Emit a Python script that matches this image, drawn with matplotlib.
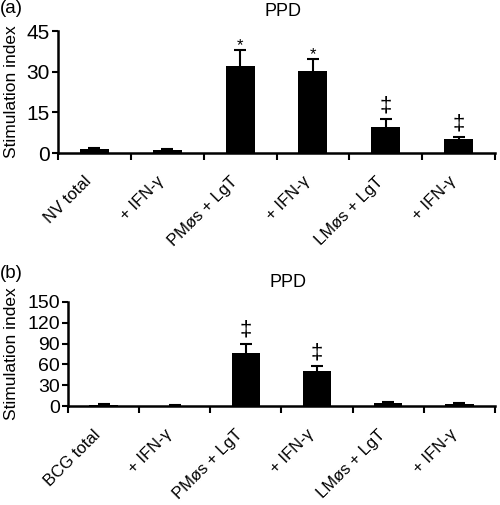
import matplotlib
matplotlib.use("Agg")
import matplotlib.pyplot as plt
import numpy as np

plt.rcParams['font.family'] = ['Liberation Sans', 'DejaVu Sans']

labels_a = ["NV total", "+ IFN-\u03b3", "PM\u00f8s + LgT", "+ IFN-\u03b3", "LM\u00f8s + LgT", "+ IFN-\u03b3"]
values_a = [1.5, 1.2, 32.0, 30.3, 9.7, 5.0]
errors_a = [0.5, 0.4, 6.0, 4.3, 2.7, 0.9]
marks_a = ["", "", "*", "*", "\u2021", "\u2021"]
yticks_a = [0, 15, 30, 45]

labels_b = ["BCG total", "+ IFN-\u03b3", "PM\u00f8s + LgT", "+ IFN-\u03b3", "LM\u00f8s + LgT", "+ IFN-\u03b3"]
values_b = [1.5, 0.5, 76.0, 51.0, 4.3, 3.0]
errors_b = [1.0, 1.0, 14.0, 6.5, 1.5, 1.2]
marks_b = ["", "", "\u2021", "\u2021", "", ""]
yticks_b = [0, 30, 60, 90, 120, 150]

fig = plt.figure(figsize=(5.0, 5.05), dpi=100)

def panel(rect, labels, values, errors, marks, yticks, tag, tag_y, ytick_fs, ylab_x):
    ax = fig.add_axes(rect)
    x = np.arange(len(labels))
    values = np.asarray(values)
    errors = np.asarray(errors)
    ax.bar(x, values, width=0.4, color='black', zorder=2)
    ax.vlines(x, values, values + errors, color='black', linewidth=1.5, zorder=3)
    ax.plot(x, values + errors, linestyle='none', marker='_', markersize=9,
            markeredgewidth=1.5, color='black', zorder=3)
    for xi, v, e, m in zip(x, values, errors, marks):
        if m:
            fs = 12 if m == "*" else 16
            off = -2 if m == "*" else 2
            ax.annotate(m, (xi, v + e), xytext=(0, off), textcoords='offset points',
                        ha='center', va='bottom', fontsize=fs)
    ax.set_xlim(-0.5, len(labels) - 0.5)
    ax.set_ylim(yticks[0], yticks[-1])
    ax.set_yticks(yticks)
    ax.set_xticks(np.arange(len(labels) + 1) - 0.5)
    ax.set_xticklabels([])
    ax.set_xticks(x, minor=True)
    ax.set_xticklabels(labels, minor=True, rotation=45, ha='right', va='top',
                       fontsize=12)
    ax.tick_params(axis='x', which='minor', length=0, pad=15)
    ax.tick_params(axis='x', which='major', length=5, width=1.5, direction='out')
    ax.tick_params(axis='y', length=4, width=1.5, labelsize=ytick_fs, pad=2)
    for s in ['top', 'right']:
        ax.spines[s].set_visible(False)
    for s in ['left', 'bottom']:
        ax.spines[s].set_linewidth(1.8)
    ax.set_ylabel("Stimulation index", fontsize=12.5)
    ax.yaxis.set_label_coords(ylab_x, 0.5)
    ax.set_title("PPD", fontsize=13, x=0.515, pad=11)
    fig.text(0.0, tag_y, tag, fontsize=13.5, va='top', ha='left')
    return ax

panel([0.116, 0.697, 0.874, 0.2416], labels_a, values_a, errors_a, marks_a, yticks_a, "(a)", 1.0, 15, -0.09)
panel([0.136, 0.196, 0.854, 0.206], labels_b, values_b, errors_b, marks_b, yticks_b, "(b)", 0.476, 14, -0.115)

fig.savefig("out.png", dpi=100)
